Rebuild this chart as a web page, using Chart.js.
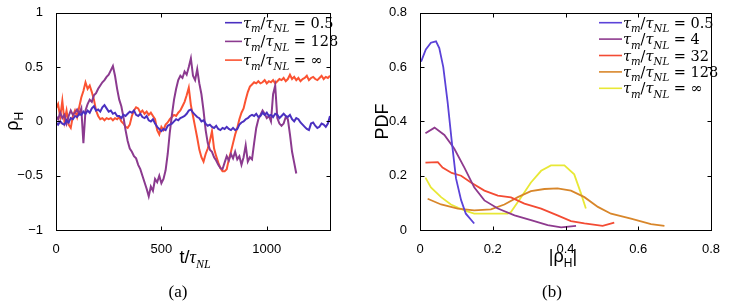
<!DOCTYPE html>
<html>
<head>
<meta charset="utf-8">
<script src="https://cdn.jsdelivr.net/npm/chart.js@4.4.1/dist/chart.umd.min.js"></script>
<style>
  html, body { margin: 0; padding: 0; background: #fff; }
  #wrap { position: relative; width: 729px; height: 302px; }
  canvas { position: absolute; top: 0; }
</style>
</head>
<body>
<div id="wrap">
  <canvas id="panelA" width="364" height="302" style="left:0"></canvas>
  <canvas id="panelB" width="365" height="302" style="left:364px"></canvas>
</div>
<script>
//====================================================== Data (a): rho_H against t/tau_NL, one sample every 10
var timeStep = 10;

var rhoTau05 = [
  -0.01, -0.03, 0.0, -0.02, -0.03, 0.01, -0.01, 0.03, 0.02, 0.05,
  0.04, 0.07, 0.06, 0.09, 0.07, 0.1, 0.08, 0.12, 0.14, 0.1,
  0.11, 0.09, 0.13, 0.15, 0.12, 0.09, 0.1, 0.07, 0.08, 0.05,
  0.05, 0.03, 0.06, 0.05, 0.07, 0.09, 0.08, 0.1, 0.06, 0.05,
  0.07, 0.04, 0.03, 0.05, 0.01, 0.0, 0.02, -0.02, -0.05, -0.07,
  -0.09, -0.07, -0.08, -0.04, -0.03, -0.02, 0.0, 0.02, 0.01, 0.03,
  0.04, 0.05, 0.07, 0.1, 0.11, 0.08, 0.06, 0.04, 0.03, 0.0,
  0.01, -0.02, -0.04, -0.03, -0.05, -0.06, -0.04, -0.07, -0.08, -0.06,
  -0.07, -0.05, -0.07, -0.08, -0.06, -0.08, -0.07, -0.03, -0.01, 0.0,
  0.02, 0.03, 0.05, 0.06, 0.05, 0.07, 0.04, 0.05, 0.08, 0.06,
  0.08, 0.05, 0.06, 0.04, 0.07, 0.06, 0.03, 0.05, 0.07, 0.05,
  0.04, 0.06, 0.02, 0.0, 0.03, 0.02, -0.01, -0.03, -0.05, -0.07,
  -0.08, -0.02, -0.01, -0.04, -0.06, -0.05, -0.02, -0.03, -0.05, -0.02,
  0.05
];

var rhoTau128 = [
  0.05, 0.02, 0.08, 0.03, 0.06, -0.02, 0.05, 0.1, 0.06, 0.08,
  0.11, 0.07, 0.12, -0.2, 0.1, 0.16, 0.2, 0.18, 0.24, 0.26,
  0.3, 0.33, 0.36, 0.38, 0.41, 0.43, 0.47, 0.51, 0.42, 0.3,
  0.2, 0.14, 0.04, -0.08, -0.18, -0.25, -0.28, -0.32, -0.34, -0.4,
  -0.44, -0.5, -0.56, -0.62, -0.69, -0.6, -0.64, -0.53, -0.56, -0.5,
  -0.57, -0.53, -0.45, -0.3, -0.1, 0.06, 0.2, 0.3, 0.38, 0.42,
  0.4, 0.46, 0.43, 0.5, 0.58, 0.42, 0.38, 0.48, 0.35, 0.25,
  0.1, -0.08, -0.2, -0.26, -0.28, -0.33, -0.36, -0.4, -0.43, -0.44,
  -0.38, -0.32, -0.36, -0.3, -0.34, -0.28, -0.35, -0.32, -0.4, -0.33,
  -0.22, -0.37, -0.33, -0.35, -0.2, -0.06, 0.02, 0.06, 0.1, 0.07,
  0.03, 0.05, 0.0, 0.25, 0.33, 0.03, -0.02, -0.04, -0.02, 0.04,
  0.02, -0.12, -0.28, -0.38, -0.48
];

var rhoTauInf = [
  0.12, 0.16, 0.04, 0.19, 0.0, 0.1, -0.03, -0.06, 0.05, 0.1,
  0.04, 0.13, 0.22, 0.28, 0.36, 0.3, 0.33, 0.27, 0.2, 0.1,
  0.05, 0.02, 0.03, 0.01, 0.03, 0.02, 0.03, 0.01, 0.03, 0.02,
  0.04, 0.0, -0.02, -0.05, -0.06, -0.03, 0.05, 0.1, 0.13, 0.12,
  0.08, 0.1, 0.07, 0.09, 0.06, 0.08, 0.05, 0.02, -0.08, -0.12,
  -0.05, -0.08, -0.03, -0.01, 0.02, 0.04, 0.06, 0.05, 0.08, 0.1,
  0.14, 0.18, 0.24, 0.31, 0.15, 0.05, -0.05, -0.15, -0.26, -0.33,
  -0.37, -0.3, -0.25, -0.18, -0.09, -0.25, -0.32, -0.38, -0.43, -0.46,
  -0.46, -0.44, -0.35, -0.28, -0.2, -0.12, -0.06, 0.02, 0.08, 0.12,
  0.2, 0.27, 0.32, 0.34, 0.36, 0.35, 0.37, 0.35, 0.36, 0.38,
  0.35, 0.37, 0.36, 0.38, 0.35, 0.37, 0.39, 0.38, 0.4, 0.37,
  0.39, 0.43, 0.39, 0.41, 0.38, 0.4, 0.37, 0.39, 0.4, 0.42,
  0.38, 0.4, 0.41, 0.39, 0.38, 0.4, 0.42, 0.39, 0.41, 0.4,
  0.42
];

var labelsA = ['τ_{m}/τ_{NL} = 0.5', 'τ_{m}/τ_{NL} = 128', 'τ_{m}/τ_{NL} = ∞'];
var xTicksA = [0, 500, 1000];
var yTicksA = [-1, -0.5, 0, 0.5, 1];

//====================================================== Data (b): PDF of |rho_H|
var pdfX05 = [0.003, 0.016, 0.03, 0.044, 0.053, 0.064, 0.076, 0.087, 0.099, 0.113, 0.126, 0.149];
var pdfY05 = [0.62, 0.665, 0.69, 0.695, 0.67, 0.6, 0.47, 0.33, 0.19, 0.11, 0.06, 0.024];

var pdfX4 = [0.015, 0.04, 0.067, 0.094, 0.122, 0.149, 0.177, 0.214, 0.26, 0.305, 0.351, 0.388, 0.429];
var pdfY4 = [0.356, 0.377, 0.35, 0.3, 0.23, 0.157, 0.109, 0.079, 0.054, 0.036, 0.018, 0.01, 0.015];

var pdfX32 = [0.015, 0.049, 0.062, 0.087, 0.113, 0.14, 0.177, 0.214, 0.25, 0.287, 0.333, 0.378, 0.415, 0.452, 0.502, 0.534];
var pdfY32 = [0.248, 0.25, 0.23, 0.21, 0.2, 0.175, 0.145, 0.127, 0.12, 0.097, 0.079, 0.054, 0.033, 0.024, 0.015, 0.027];

var pdfX128 = [0.021, 0.058, 0.104, 0.149, 0.195, 0.232, 0.269, 0.305, 0.342, 0.378, 0.415, 0.452, 0.489, 0.525, 0.58, 0.635, 0.672];
var pdfY128 = [0.115, 0.094, 0.079, 0.072, 0.076, 0.094, 0.121, 0.143, 0.151, 0.153, 0.145, 0.121, 0.085, 0.06, 0.042, 0.022, 0.015];

var pdfXInf = [0.015, 0.03, 0.058, 0.085, 0.122, 0.149, 0.195, 0.241, 0.25, 0.278, 0.305, 0.333, 0.36, 0.397, 0.424, 0.443, 0.456];
var pdfYInf = [0.193, 0.157, 0.121, 0.094, 0.072, 0.06, 0.06, 0.06, 0.066, 0.121, 0.175, 0.218, 0.238, 0.238, 0.205, 0.133, 0.079];

var labelsB = ['τ_{m}/τ_{NL} = 0.5', 'τ_{m}/τ_{NL} = 4', 'τ_{m}/τ_{NL} = 32', 'τ_{m}/τ_{NL} = 128', 'τ_{m}/τ_{NL} = ∞'];
var xTicksB = [0, 0.2, 0.4, 0.6, 0.8];
var yTicksB = [0, 0.2, 0.4, 0.6, 0.8];

//====================================================== Helpers
var SANS = '"Liberation Sans", Arial, sans-serif';
var SERIF = '"Liberation Serif", "Times New Roman", serif';
var MATH = '"DejaVu Serif", serif';

function timePoints(vals) {
    return vals.map(function(v, i) { return { x: i * timeStep, y: v }; });
}
function xyPoints(xs, ys) {
    return xs.map(function(v, i) { return { x: v, y: ys[i] }; });
}

// legend strings like 'τ_{m}/τ_{NL} = 4' -> segments, letters italic like LaTeX
function mathSegs(str, size) {
    var segs = [], re = /_\{([^}]*)\}/g, last = 0, m;
    function pushPlain(s, sub) {
        for (var k = 0; k < s.length; k++) {
            var ch = s[k];
            segs.push({ t: ch, fam: MATH, it: /[A-Za-z\u03b1-\u03c9]/.test(ch), sub: sub, size: sub ? size * 0.7 : size });
        }
    }
    while ((m = re.exec(str))) {
        if (m.index > last) pushPlain(str.slice(last, m.index), false);
        pushPlain(m[1], true);
        last = re.lastIndex;
    }
    if (last < str.length) pushPlain(str.slice(last), false);
    return segs;
}

function segFont(s) { return (s.it ? 'italic ' : '') + s.size + 'px ' + s.fam; }

function drawSegs(ctx, segs, x, y, align) {
    ctx.save();
    ctx.textBaseline = 'alphabetic';
    ctx.textAlign = 'left';
    var w = 0;
    segs.forEach(function(s) { ctx.font = segFont(s); s.w = ctx.measureText(s.t).width; w += s.w; });
    var cx = align === 'center' ? x - w / 2 : x;
    segs.forEach(function(s) {
        ctx.font = segFont(s);
        ctx.fillText(s.t, cx, y + (s.sub ? s.size * 0.45 : 0));
        cx += s.w;
    });
    ctx.restore();
}

// MATLAB style box with inward ticks on all four sides
var boxPlugin = {
    id: 'matBox',
    afterDatasetsDraw: function(chart) {
        var ctx = chart.ctx, a = chart.chartArea, sx = chart.scales.x, sy = chart.scales.y;
        var L = 4;
        ctx.save();
        ctx.strokeStyle = '#000';
        ctx.lineWidth = 1;
        var l = Math.round(a.left) + 0.5, r = Math.round(a.right) + 0.5;
        var t = Math.round(a.top) + 0.5, b = Math.round(a.bottom) + 0.5;
        ctx.strokeRect(l, t, r - l, b - t);
        ctx.beginPath();
        sx.ticks.forEach(function(tk) {
            var px = Math.round(sx.getPixelForValue(tk.value)) + 0.5;
            ctx.moveTo(px, b); ctx.lineTo(px, b - L);
            ctx.moveTo(px, t); ctx.lineTo(px, t + L);
        });
        sy.ticks.forEach(function(tk) {
            var py = Math.round(sy.getPixelForValue(tk.value)) + 0.5;
            ctx.moveTo(l, py); ctx.lineTo(l + L, py);
            ctx.moveTo(r, py); ctx.lineTo(r - L, py);
        });
        ctx.stroke();
        ctx.restore();
    }
};

// axis titles, caption and legend
var textPlugin = {
    id: 'panelText',
    afterDraw: function(chart, args, o) {
        var ctx = chart.ctx, a = chart.chartArea;
        ctx.save();
        ctx.fillStyle = '#000';
        // y title, rotated
        ctx.translate(o.yTitleX, (a.top + a.bottom) / 2);
        ctx.rotate(-Math.PI / 2);
        drawSegs(ctx, o.yTitle, 0, 0, 'center');
        ctx.restore();
        ctx.save();
        ctx.fillStyle = '#000';
        drawSegs(ctx, o.xTitle, o.xTitleX, o.xTitleY, 'center');
        ctx.font = '17px ' + SERIF;
        ctx.textAlign = 'center';
        ctx.textBaseline = 'middle';
        ctx.fillText(o.caption, o.captionX, 293);
        // legend
        chart.data.datasets.forEach(function(ds, i) {
            var y = o.legY + i * o.legDy;
            ctx.strokeStyle = ds.borderColor;
            ctx.lineWidth = 1.6;
            ctx.beginPath();
            ctx.moveTo(o.legX0, y); ctx.lineTo(o.legX1, y);
            ctx.stroke();
            ctx.fillStyle = '#000';
            drawSegs(ctx, mathSegs(ds.label, 14.5), o.legX1 + 1, y + 5, 'left');
        });
        ctx.restore();
    }
};

function tickFmt(v) {
    return String(+v.toFixed(1)).replace('-', '\u2212');
}

function axes(xMin, xMax, xTicks, yMin, yMax, yTicks) {
    return {
        x: {
            type: 'linear', min: xMin, max: xMax,
            afterBuildTicks: function(s) { s.ticks = xTicks.map(function(v) { return { value: v }; }); },
            afterFit: function(s) { s.height = 72; },
            grid: { display: false },
            border: { display: false },
            ticks: { color: '#000', padding: 4, maxRotation: 0, font: { family: SANS, size: 13 }, callback: tickFmt }
        },
        y: {
            type: 'linear', min: yMin, max: yMax,
            afterBuildTicks: function(s) { s.ticks = yTicks.map(function(v) { return { value: v }; }); },
            afterFit: function(s) { s.width = 56; },
            grid: { display: false },
            border: { display: false },
            ticks: { color: '#000', padding: 5, font: { family: SANS, size: 13 }, callback: tickFmt }
        }
    };
}

//====================================================== Panel (a)
new Chart(document.getElementById('panelA'), {
    type: 'line',
    data: {
        datasets: [
            { label: labelsA[0], data: timePoints(rhoTau05), borderColor: '#4a30c0', borderWidth: 2 },
            { label: labelsA[1], data: timePoints(rhoTau128), borderColor: '#8b3a8f', borderWidth: 2 },
            { label: labelsA[2], data: timePoints(rhoTauInf), borderColor: '#fb5332', borderWidth: 2 }
        ]
    },
    options: {
        responsive: false,
        animation: false,
        layout: { padding: { top: 9, right: 34, bottom: 0, left: 0 } },
        elements: { point: { radius: 0 }, line: { tension: 0 } },
        scales: axes(0, 1300, xTicksA, -1, 1, yTicksA),
        plugins: {
            legend: { display: false },
            tooltip: { enabled: false },
            panelText: {
                yTitle: [{ t: 'ρ', fam: SANS, size: 18 }, { t: 'H', fam: SANS, size: 12, sub: true }],
                yTitleX: 18,
                xTitle: [{ t: 't/', fam: SANS, size: 18 }, { t: 'τ', fam: SERIF, it: true, size: 18 },
                         { t: 'NL', fam: SERIF, it: true, size: 12, sub: true }],
                xTitleX: 195, xTitleY: 263,
                caption: '(a)', captionX: 178,
                legX0: 225, legX1: 242, legY: 22.7, legDy: 18.7
            }
        }
    },
    plugins: [boxPlugin, textPlugin]
});

//====================================================== Panel (b)
new Chart(document.getElementById('panelB'), {
    type: 'line',
    data: {
        datasets: [
            { label: labelsB[0], data: xyPoints(pdfX05, pdfY05), borderColor: '#5b42d8', borderWidth: 1.8 },
            { label: labelsB[1], data: xyPoints(pdfX4, pdfY4), borderColor: '#8e3a8e', borderWidth: 1.8 },
            { label: labelsB[2], data: xyPoints(pdfX32, pdfY32), borderColor: '#f34b33', borderWidth: 1.8 },
            { label: labelsB[3], data: xyPoints(pdfX128, pdfY128), borderColor: '#d8862a', borderWidth: 1.8 },
            { label: labelsB[4], data: xyPoints(pdfXInf, pdfYInf), borderColor: '#e8e836', borderWidth: 1.8 }
        ]
    },
    options: {
        responsive: false,
        animation: false,
        layout: { padding: { top: 9, right: 18, bottom: 0, left: 0 } },
        elements: { point: { radius: 0 }, line: { tension: 0 } },
        scales: axes(0, 0.8, xTicksB, 0, 0.8, yTicksB),
        plugins: {
            legend: { display: false },
            tooltip: { enabled: false },
            panelText: {
                yTitle: [{ t: 'PDF', fam: SANS, size: 18 }],
                yTitleX: 24,
                xTitle: [{ t: '|ρ', fam: SANS, size: 18 }, { t: 'H', fam: SANS, size: 12, sub: true },
                         { t: '|', fam: SANS, size: 18 }],
                xTitleX: 199, xTitleY: 262,
                caption: '(b)', captionX: 188,
                legX0: 235, legX1: 258, legY: 22.7, legDy: 16.4
            }
        }
    },
    plugins: [boxPlugin, textPlugin]
});
</script>
</body>
</html>
